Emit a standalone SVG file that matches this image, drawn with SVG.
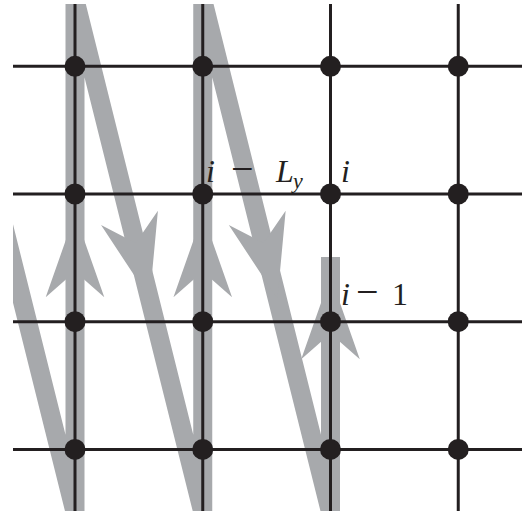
<svg xmlns="http://www.w3.org/2000/svg" width="527" height="513" viewBox="0 0 527 513">
  <defs>
    <clipPath id="clip">
      <rect x="13" y="4" width="509" height="507"/>
    </clipPath>
    <path id="ah" d="M 0 -42 L 29.3 41.3 L 0 15.5 L -29.3 41.3 Z"/>
    <style>
      .band { fill: none; stroke: #a7a9ac; stroke-width: 19; stroke-linejoin: bevel; stroke-linecap: butt; }
      .head { fill: #a7a9ac; }
      .grid line { stroke: #231f20; stroke-width: 3; }
      .node circle { fill: #231f20; }
      .lbl { font-family: "Liberation Serif", "Times New Roman", serif; font-size: 32px; fill: #231f20; }
      .it { font-style: italic; }
      .minus { font-size: 40px; font-style: normal; }
    </style>
  </defs>
  <rect width="527" height="513" fill="#ffffff"/>

  <g id="path-band" clip-path="url(#clip)">
    <path class="band" d="M -52.75 0 L 75 512 L 75 0 L 202.75 512 L 202.75 0 L 330.5 512 L 330.5 257"/>
    <use href="#ah" class="head" transform="translate(75,256)"/>
    <use href="#ah" class="head" transform="translate(202.75,256)"/>
    <use href="#ah" class="head" transform="translate(330.5,318)"/>
    <use href="#ah" class="head" transform="translate(139.5,258) rotate(165.96)"/>
    <use href="#ah" class="head" transform="translate(267.25,258) rotate(165.96)"/>
  </g>

  <g id="connectors" class="grid">
    <line x1="75" y1="4" x2="75" y2="511"/>
    <line x1="202.75" y1="4" x2="202.75" y2="511"/>
    <line x1="330.5" y1="4" x2="330.5" y2="511"/>
    <line x1="458.25" y1="4" x2="458.25" y2="511"/>
    <line x1="13" y1="66.3" x2="522" y2="66.3"/>
    <line x1="13" y1="194" x2="522" y2="194"/>
    <line x1="13" y1="321.7" x2="522" y2="321.7"/>
    <line x1="13" y1="449.4" x2="522" y2="449.4"/>
  </g>

  <g id="n-0-0" class="node"><circle cx="75" cy="66.3" r="10.5"/></g>
  <g id="n-1-0" class="node"><circle cx="202.75" cy="66.3" r="10.5"/></g>
  <g id="n-2-0" class="node"><circle cx="330.5" cy="66.3" r="10.5"/></g>
  <g id="n-3-0" class="node"><circle cx="458.25" cy="66.3" r="10.5"/></g>
  <g id="n-0-1" class="node"><circle cx="75" cy="194" r="10.5"/></g>
  <g id="n-1-1" class="node"><circle cx="202.75" cy="194" r="10.5"/></g>
  <g id="n-2-1" class="node"><circle cx="330.5" cy="194" r="10.5"/></g>
  <g id="n-3-1" class="node"><circle cx="458.25" cy="194" r="10.5"/></g>
  <g id="n-0-2" class="node"><circle cx="75" cy="321.7" r="10.5"/></g>
  <g id="n-1-2" class="node"><circle cx="202.75" cy="321.7" r="10.5"/></g>
  <g id="n-2-2" class="node"><circle cx="330.5" cy="321.7" r="10.5"/></g>
  <g id="n-3-2" class="node"><circle cx="458.25" cy="321.7" r="10.5"/></g>
  <g id="n-0-3" class="node"><circle cx="75" cy="449.4" r="10.5"/></g>
  <g id="n-1-3" class="node"><circle cx="202.75" cy="449.4" r="10.5"/></g>
  <g id="n-2-3" class="node"><circle cx="330.5" cy="449.4" r="10.5"/></g>
  <g id="n-3-3" class="node"><circle cx="458.25" cy="449.4" r="10.5"/></g>

  <g id="labels">
    <text class="lbl"><tspan class="it" x="206" y="182">i</tspan><tspan class="minus" x="231" y="182">−</tspan><tspan class="it" x="276" y="182">L</tspan><tspan class="it" x="293" y="188" font-size="22">y</tspan></text>
    <text class="lbl it" x="341" y="182">i</text>
    <text class="lbl"><tspan class="it" x="341" y="305">i</tspan><tspan class="minus" x="356" y="305">−</tspan><tspan x="392" y="305">1</tspan></text>
  </g>
</svg>
